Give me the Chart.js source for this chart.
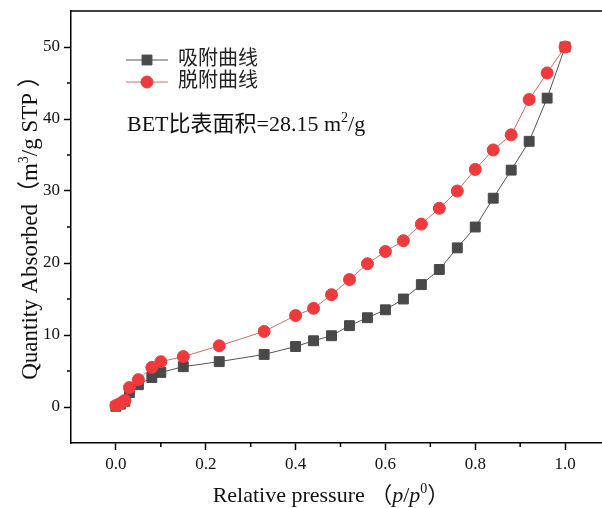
<!DOCTYPE html>
<html lang="zh">
<head>
  <meta charset="UTF-8" />
  <title>BET 吸附脱附曲线</title>
  <script src="https://cdn.jsdelivr.net/npm/chart.js@4"></script>
  <style>
    html, body { margin: 0; padding: 0; background: #fff; overflow: hidden; }
  </style>
</head>
<body>
  <canvas id="bet" width="618" height="508"></canvas>

  <script>
    const adsX = [0.0, 0.01, 0.02, 0.03, 0.05, 0.08, 0.10, 0.15, 0.23, 0.33, 0.40, 0.44, 0.48, 0.52, 0.56, 0.60, 0.64, 0.68, 0.72, 0.76, 0.80, 0.84, 0.88, 0.92, 0.96, 1.0];
    const adsY = [0.1, 0.4, 0.8, 2.0, 3.1, 4.1, 4.8, 5.6, 6.3, 7.3, 8.4, 9.2, 9.9, 11.3, 12.4, 13.5, 15.0, 17.0, 19.1, 22.1, 25.0, 29.0, 32.9, 36.9, 42.9, 50.0];
    const desX = [0.0, 0.01, 0.02, 0.03, 0.05, 0.08, 0.10, 0.15, 0.23, 0.33, 0.40, 0.44, 0.48, 0.52, 0.56, 0.60, 0.64, 0.68, 0.72, 0.76, 0.80, 0.84, 0.88, 0.92, 0.96, 1.0];
    const desY = [0.2, 0.5, 0.9, 2.7, 3.8, 5.5, 6.3, 7.0, 8.5, 10.5, 12.7, 13.7, 15.6, 17.7, 19.9, 21.6, 23.1, 25.4, 27.6, 30.0, 33.0, 35.7, 37.8, 42.7, 46.4, 50.0];
    const seriesNames = ['吸附曲线', '脱附曲线'];

    const xTicks = [0.0, 0.2, 0.4, 0.6, 0.8, 1.0];
    const xMinor = [0.1, 0.3, 0.5, 0.7, 0.9];
    const yTicks = [0, 10, 20, 30, 40, 50];
    const yMinor = [5, 15, 25, 35, 45];

    const serif = '"Liberation Serif", "Times New Roman", "Noto Sans CJK SC", serif';

    function toPoints(xs, ys) {
      return xs.map((x, i) => ({ x: x, y: ys[i] }));
    }

    // draw a run of text pieces: [text, kind] kind = '' | 'it' | 'sup'
    function drawParts(ctx, parts, x, y, size, align) {
      let total = 0;
      const pieces = parts.map(([t, kind]) => {
        const fs = kind === 'sup' ? Math.round(size * 0.62) : size;
        const font = (kind === 'it' ? 'italic ' : '') + fs + 'px ' + serif;
        ctx.font = font;
        const w = ctx.measureText(t).width;
        total += w;
        return { t, font, w, dy: kind === 'sup' ? -size * 0.4 : 0 };
      });
      let cx = align === 'center' ? x - total / 2 : x;
      ctx.textAlign = 'left';
      ctx.textBaseline = 'alphabetic';
      pieces.forEach(p => {
        ctx.font = p.font;
        ctx.fillText(p.t, cx, y + p.dy);
        cx += p.w;
      });
    }

    const decor = {
      id: 'decor',
      afterDraw(chart) {
        const ctx = chart.ctx;
        const area = chart.chartArea;
        const xs = chart.scales.x;
        const ys = chart.scales.y;
        ctx.save();
        ctx.strokeStyle = '#000';
        ctx.fillStyle = '#000';

        // top frame line
        ctx.lineWidth = 1.5;
        ctx.beginPath();
        ctx.moveTo(area.left, area.top);
        ctx.lineTo(area.right + 2, area.top);
        ctx.stroke();

        // minor ticks
        xMinor.forEach(v => {
          const px = xs.getPixelForValue(v);
          ctx.beginPath();
          ctx.moveTo(px, area.bottom);
          ctx.lineTo(px, area.bottom + 4);
          ctx.stroke();
        });
        yMinor.forEach(v => {
          const py = ys.getPixelForValue(v);
          ctx.beginPath();
          ctx.moveTo(area.left, py);
          ctx.lineTo(area.left - 4, py);
          ctx.stroke();
        });

        // axis titles
        ctx.fillStyle = '#111';
        drawParts(ctx, [['Relative pressure （', ''], ['p', 'it'], ['/', ''], ['p', 'it'], ['0', 'sup'], ['）', '']], 331, 502, 22, 'center');
        ctx.save();
        ctx.translate(37, 222);
        ctx.rotate(-Math.PI / 2);
        drawParts(ctx, [['Quantity Absorbed（m', ''], ['3', 'sup'], ['/g STP ）', '']], 0, 0, 23, 'center');
        ctx.restore();

        // note
        drawParts(ctx, [['BET比表面积=28.15 m', ''], ['2', 'sup'], ['/g', '']], 127, 131, 22, 'left');

        // legend
        const rows = [60, 82];
        chart.data.datasets.forEach(ds => {
          const y = rows[ds.legendRow];
          ctx.strokeStyle = ds.borderColor;
          ctx.lineWidth = 1;
          ctx.beginPath();
          ctx.moveTo(126, y);
          ctx.lineTo(168, y);
          ctx.stroke();
          ctx.fillStyle = ds.pointBackgroundColor;
          ctx.strokeStyle = ds.pointBorderColor;
          Chart.helpers.drawPoint(ctx, {
            pointStyle: ds.pointStyle,
            radius: ds.pointRadius,
            borderWidth: 1
          }, 147, y);
          ctx.fillStyle = '#222';
          ctx.font = '20px ' + serif;
          ctx.textAlign = 'left';
          ctx.textBaseline = 'middle';
          ctx.fillText(ds.label, 178, y);
        });
        ctx.restore();
      }
    };

    new Chart(document.getElementById('bet'), {
      type: 'scatter',
      data: {
        datasets: [
          {
            label: seriesNames[0],
            legendRow: 0,
            data: toPoints(adsX, adsY),
            showLine: true,
            borderColor: '#555555',
            borderWidth: 1,
            pointStyle: 'rect',
            pointRadius: 7,
            pointBackgroundColor: '#494949',
            pointBorderColor: '#494949',
            order: 1
          },
          {
            label: seriesNames[1],
            legendRow: 1,
            data: toPoints(desX, desY),
            showLine: true,
            borderColor: '#d46a66',
            borderWidth: 1,
            pointStyle: 'circle',
            pointRadius: 6,
            pointBackgroundColor: '#ee3a3d',
            pointBorderColor: '#ee3a3d',
            order: 0
          }
        ]
      },
      options: {
        responsive: false,
        animation: false,
        layout: { padding: { top: 11, right: 2, left: 0, bottom: 0 } },
        plugins: {
          legend: { display: false },
          tooltip: { enabled: false }
        },
        scales: {
          x: {
            type: 'linear',
            min: -0.1,
            max: 1.1,
            afterFit: s => { s.height = 65; s.paddingLeft = 0; s.paddingRight = 0; },
            afterBuildTicks: s => { s.ticks = xTicks.map(v => ({ value: v })); },
            grid: { drawOnChartArea: false, tickLength: 7, tickColor: '#000', tickWidth: 1.5 },
            border: { color: '#000', width: 1.5 },
            ticks: {
              padding: 4,
              color: '#111',
              font: { family: serif, size: 17 },
              callback: v => Number(v).toFixed(1)
            }
          },
          y: {
            type: 'linear',
            min: -5,
            max: 55,
            afterFit: s => { s.width = 71; s.paddingTop = 0; s.paddingBottom = 0; },
            afterBuildTicks: s => { s.ticks = yTicks.map(v => ({ value: v })); },
            grid: { drawOnChartArea: false, tickLength: 7, tickColor: '#000', tickWidth: 1.5 },
            border: { color: '#000', width: 1.5 },
            ticks: {
              padding: 4,
              color: '#111',
              font: { family: serif, size: 17 },
              callback: v => String(v)
            }
          }
        }
      },
      plugins: [decor]
    });
  </script>
</body>
</html>
